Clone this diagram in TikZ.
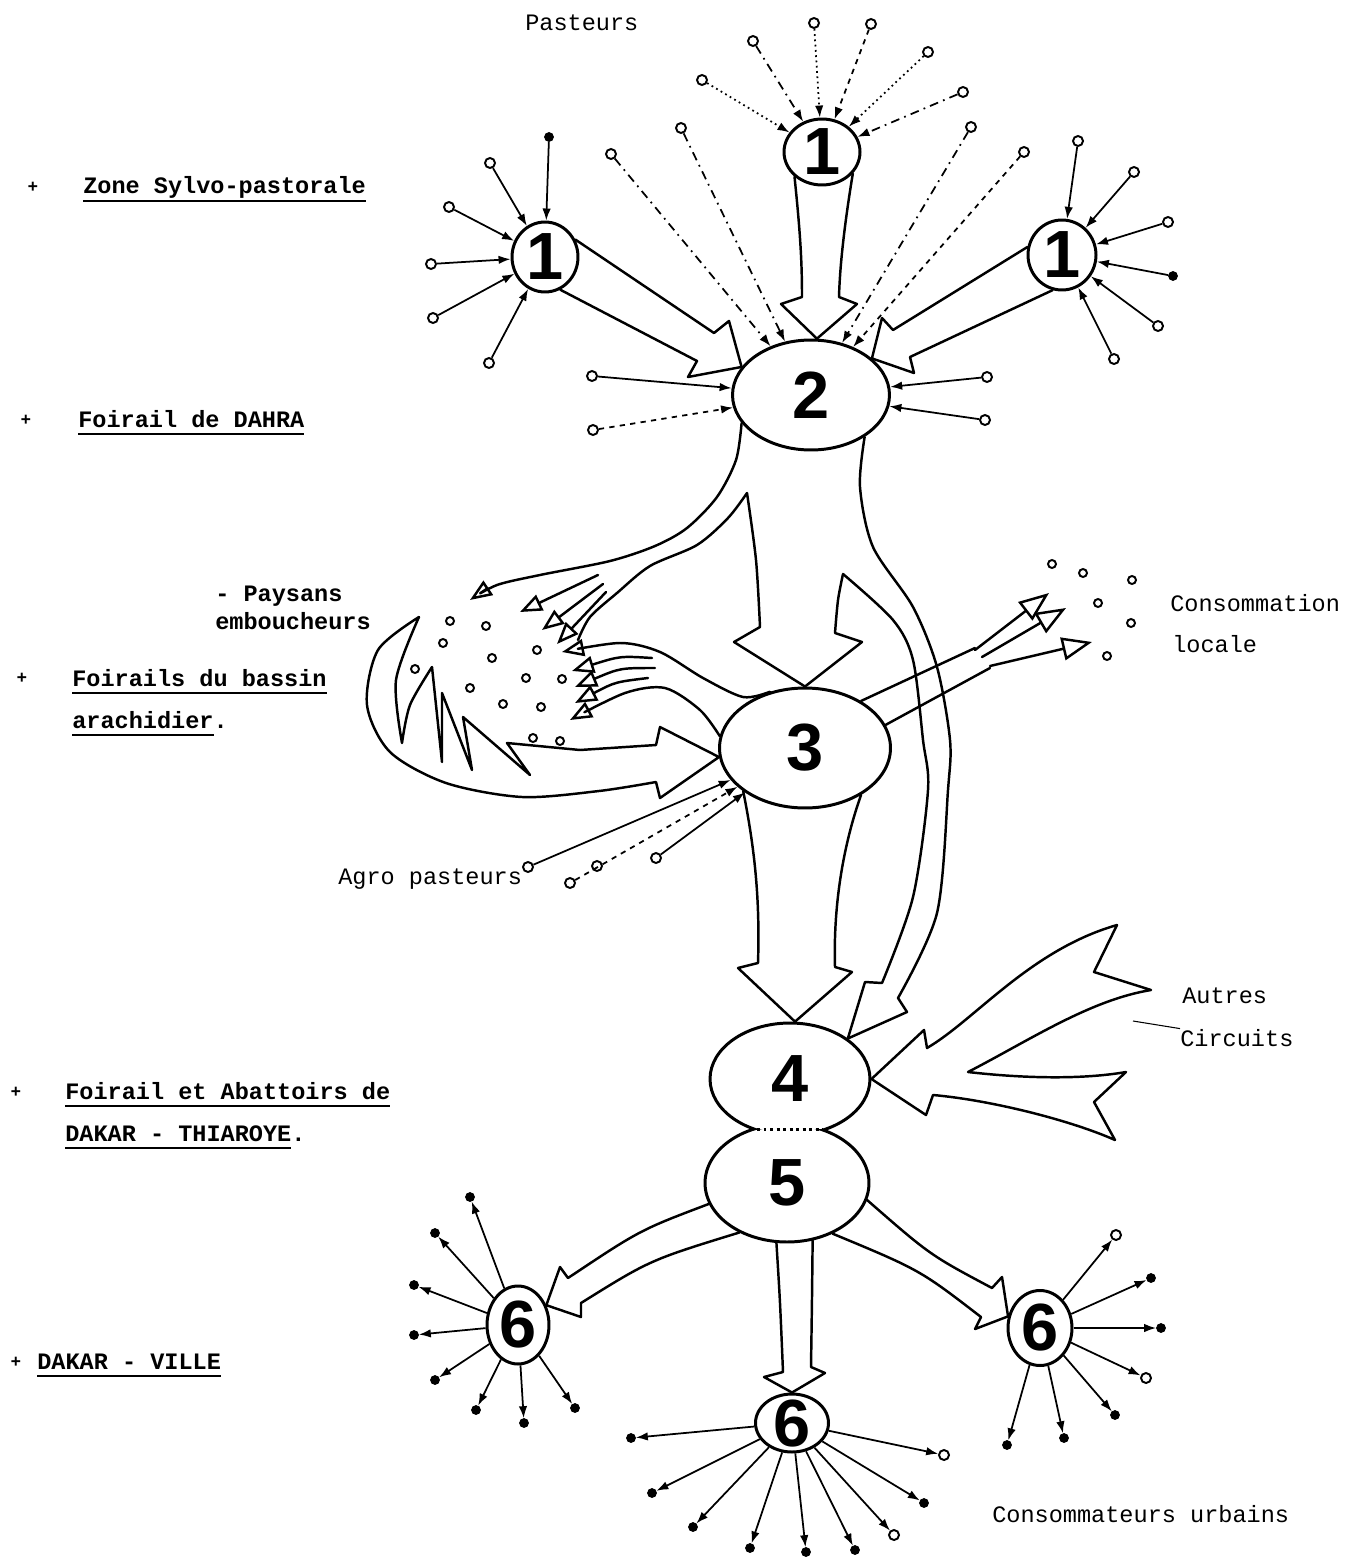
\documentclass[tikz,border=0pt]{standalone}
\usepackage{fontspec}
\setmainfont{Liberation Mono}
\newfontfamily\digitfont{Liberation Sans}
\usetikzlibrary{shapes.geometric,arrows.meta}

\newcommand\ulbl[1]{\setbox0\hbox{#1}\rlap{\rule[-4.5pt]{\wd0}{0.9pt}}\box0}

\begin{document}
\begin{tikzpicture}[
  x=0.02cm, y=-0.02cm,
  cell/.style={
    ellipse, draw, line width=1.7pt, inner sep=-8pt,
    font=\digitfont\bfseries\fontsize{38}{38}\selectfont
  },
  src/.style={circle, draw, line width=1.1pt, inner sep=0pt, minimum size=2mm},
  sink/.style={circle, draw, fill, inner sep=0pt, minimum size=1.8mm},
  seed/.style={circle, draw, line width=1.1pt, inner sep=0pt, minimum size=1.6mm},
  feed/.style={-{Latex[length=2.4mm,width=1.7mm]}, line width=1pt},
  dashdt/.style={dash pattern=on 5pt off 3pt on 1pt off 3pt},
  flow/.style={line width=1.4pt, line join=round, line cap=round},
  hd/.style={-{Triangle[open,length=4.4mm,width=3.4mm]}},
  bighd/.style={-{Triangle[open,length=6mm,width=4.6mm]}},
  lbl/.style={font=\fontsize{13.4}{16}\selectfont, anchor=base west, inner sep=0pt},
  blbl/.style={lbl, font=\fontsize{13.4}{16}\selectfont\bfseries},
  plus/.style={font=\fontsize{10}{12}\selectfont\bfseries, inner sep=0pt},
]
\fill[white] (0,0) rectangle (1348,1561);
\useasboundingbox (0,0) rectangle (1348,1561);

%% --- Markets --------------------------------------------------------
\node[cell, minimum width=1.52cm, minimum height=1.32cm] (Pa) at (822,152)  {1};
\node[cell, minimum width=1.32cm, minimum height=1.40cm] (Pb) at (545,257)  {1};
\node[cell, minimum width=1.36cm, minimum height=1.40cm] (Pc) at (1062,255) {1};
\node[cell, minimum width=3.14cm, minimum height=2.20cm] (D)  at (811,395)  {2};
\node[cell, minimum width=3.42cm, minimum height=2.40cm] (B)  at (805,748)  {3};
\node[cell, draw=none, minimum width=3.20cm, minimum height=2.24cm] (T) at (790,1079) {4};
\node[cell, draw=none, minimum width=3.28cm, minimum height=2.36cm] (A) at (787,1183) {5};
\node[cell, minimum width=1.24cm, minimum height=1.56cm] (Va) at (518,1325)  {6};
\node[cell, minimum width=1.46cm, minimum height=1.16cm] (Vb) at (792,1423)  {6};
\node[cell, minimum width=1.28cm, minimum height=1.50cm] (Vc) at (1040,1328) {6};

%  4 and 5 share a pinched waist
\begin{scope}
  \clip (600,900) rectangle (1000,1129);
  \draw[line width=1.7pt] (T.center) ellipse [x radius=1.6cm, y radius=1.12cm];
\end{scope}
\begin{scope}
  \clip (600,1129) rectangle (1000,1300);
  \draw[line width=1.7pt] (A.center) ellipse [x radius=1.64cm, y radius=1.18cm];
\end{scope}
\draw[line width=1.7pt, dotted] (757,1129) -- (823,1129);

%% --- Pasteurs around the 1s ----------------------------------------
\foreach \px/\py/\n in {702/80/1, 814/23/3, 928/52/5}
  {\node[src] (pa\n) at (\px,\py) {}; \draw[feed, dotted] (pa\n) -- (Pa);}
\foreach \px/\py/\n in {753/41/2, 963/92/6}
  {\node[src] (pa\n) at (\px,\py) {}; \draw[feed, dashdt] (pa\n) -- (Pa);}
\node[src] (pa4) at (871,24) {};
\draw[feed, dashed] (pa4) -- (Pa);

\foreach \px/\py/\n in {490/163/1, 449/207/3, 431/264/4, 433/318/5, 489/363/6}
  {\node[src] (pb\n) at (\px,\py) {}; \draw[feed] (pb\n) -- (Pb);}
\node[sink] (pb2) at (549,137) {};
\draw[feed] (pb2) -- (Pb);

\foreach \px/\py/\n in {1078/141/1, 1134/172/2, 1168/222/3, 1158/326/5, 1114/359/6}
  {\node[src] (pc\n) at (\px,\py) {}; \draw[feed] (pc\n) -- (Pc);}
\node[sink] (pc4) at (1173,276) {};
\draw[feed] (pc4) -- (Pc);

%% --- Direct feeders of DAHRA ----------------------------------------
\foreach \px/\py/\n in {611/154/1, 681/128/2, 971/127/3}
  {\node[src] (dd\n) at (\px,\py) {}; \draw[feed, dashdt] (dd\n) -- (D);}
\node[src] (dd4) at (1024,152) {};
\draw[feed, dashed] (dd4) -- (D);
\foreach \px/\py/\n in {592/376/5, 987/377/7, 985/420/8}
  {\node[src] (dd\n) at (\px,\py) {}; \draw[feed] (dd\n) -- (D);}
\node[src] (dd6) at (593,430) {};
\draw[feed, dashed] (dd6) -- (D);

%% --- Big flows 1 -> 2 -----------------------------------------------
\draw[flow] (Pa.-138) .. controls (800,230) and (802,260) .. (802,297)
  -- (781,304) -- (D.84) -- (857,304) -- (839,297)
  .. controls (840,260) and (846,215) .. (Pa.-35);
\draw[flow] (Pb.30) -- (714,333) -- (729,321) -- (D.158) -- (688,377) -- (697,361) -- (Pb.-65);
\draw[flow] (Pc.167) -- (893,330) -- (882,318) -- (D.31) -- (914,373) -- (910,357) -- (Pc.-105);

%% --- Split below DAHRA: paysans / bassin / direct to 4 -------------
\draw[flow, hd] plot[smooth] coordinates
  {(D.-158) (736,460) (717,497) (687,528) (655,546) (610,561) (540,575) (497,585) (470,600)};
\draw[flow] plot[smooth] coordinates
  {(578,640) (590,617) (617,593) (650,566) (697,545) (728,518) (747,493)}
  -- plot[smooth] coordinates {(747,493) (756,560) (760,627)}
  -- (734,642) -- (B.north) -- (862,642) -- (835,633)
  -- plot[smooth] coordinates {(835,633) (838,600) (843,574)}
  -- plot[smooth] coordinates {(843,574) (893,620) (913,660) (923,740) (928,790) (913,897) (882,983)}
  -- (865,982) -- (T.35) -- (907,1012) -- (898,998)
  -- plot[smooth] coordinates {(898,998) (937,913) (948,790) (950,740) (937,667) (913,607) (873,547) (860,487) (D.-38)};
\draw[flow, hd] (598,575) -- (520,612);
\draw[flow, hd] (603,584) -- (542,630);
\draw[flow, hd] (606,592) -- (557,644);

%% --- Paysans emboucheurs --------------------------------------------
\foreach \px/\py [count=\i] in {450/621, 486/626, 443/643, 537/650, 492/658, 415/669, 526/678,
    562/679, 470/688, 503/704, 541/707, 533/738, 560/741}
  {\node[seed] (ps\i) at (\px,\py) {};}

\draw[flow, hd] plot[smooth] coordinates {(B.122) (743,697) (703,678) (660,652) (620,643) (562,652)};
\draw[flow, hd] plot[smooth] coordinates {(B.172) (700,710) (665,688) (625,693) (570,720)};
\draw[flow, hd] (652,658) .. controls (620,656) .. (572,671);
\draw[flow, hd] (655,668) .. controls (620,668) .. (575,687);
\draw[flow, hd] (648,678) .. controls (615,682) .. (575,703);

\draw[flow] (B.186) -- (660,727) -- (656,745) -- (580,750) -- (507,743) -- (530,775)
  -- (463,717) -- (472,770) -- (442,693) -- (442,762) -- (432,667)
  -- plot[smooth] coordinates {(432,667) (410,705) (402,743)}
  -- plot[smooth] coordinates {(402,743) (396,680) (419,617)}
  -- plot[smooth] coordinates {(419,617) (378,650) (367,705) (390,752) (446,783) (522,797) (599,791) (656,782)}
  -- (660,798) -- cycle;

%% --- Agro pasteurs --------------------------------------------------
\node[src] (ag1) at (528,867) {};
\node[src] (ag2) at (570,883) {};
\node[src] (ag3) at (656,858) {};
\node[src] (ag4) at (597,866) {};
\draw[feed] (ag1) -- (B);
\draw[feed, dashed] (ag2) -- (B);
\draw[feed] (ag3) -- (B);

%% --- Consommation locale --------------------------------------------
\draw[flow] (B.40) -- (975,648);
\draw[flow] (B.16) -- (990,668);
\draw[flow, bighd] (975,650) -- (1049,593);
\draw[flow, bighd] (982,657) -- (1066,608);
\draw[flow, bighd] (990,666) -- (1092,642);
\foreach \px/\py [count=\i] in {1052/564, 1083/573, 1132/580, 1098/603, 1131/623, 1107/656}
  {\node[seed] (cl\i) at (\px,\py) {};}

%% --- 3 -> 4 and other circuits -------------------------------------
\draw[flow] (B.-145) .. controls (755,850) and (760,900) .. (758,963)
  -- (738,968) -- (T.85) -- (852,972) -- (835,967)
  .. controls (833,900) and (845,840) .. (B.-40);

\draw[flow] (T.0) -- (924,1030) -- (927,1048)
  .. controls (975,1020) and (1030,950) .. (1117,925) -- (1094,972) -- (1151,990)
  .. controls (1090,1000) and (1030,1040) .. (968,1072)
  .. controls (1020,1078) and (1080,1080) .. (1126,1072) -- (1094,1102) -- (1115,1140)
  .. controls (1070,1120) and (990,1100) .. (933,1095) -- (926,1115) -- cycle;

%% --- 5 -> Dakar ville -----------------------------------------------
\draw[flow] (A.195) .. controls (640,1230) .. (568,1278) -- (560,1267) -- (Va.35)
  -- (581,1317) -- (581,1303) .. controls (650,1260) .. (A.-134);
\draw[flow] (A.-100) .. controls (780,1300) .. (783,1372) -- (764,1377) -- (Vb.north)
  -- (825,1373) -- (811,1367) .. controls (812,1300) .. (A.-66);
\draw[flow] (A.-12) .. controls (930,1255) .. (992,1288) -- (1002,1277) -- (Vc.160)
  -- (975,1329) -- (981,1317) .. controls (920,1270) .. (A.-48);

\foreach \px/\py/\n in {470/1197/1, 435/1233/2, 414/1285/3, 414/1335/4, 435/1380/5,
    476/1410/6, 524/1423/7, 575/1408/8}
  {\node[sink] (va\n) at (\px,\py) {}; \draw[feed] (Va) -- (va\n);}
\foreach \px/\py/\n in {631/1438/1, 652/1493/3, 693/1527/4, 750/1548/5, 806/1552/6,
    855/1550/7, 924/1503/9}
  {\node[sink] (vb\n) at (\px,\py) {}; \draw[feed] (Vb) -- (vb\n);}
\foreach \px/\py/\n in {944/1455/2, 894/1535/8}
  {\node[src] (vb\n) at (\px,\py) {}; \draw[feed] (Vb) -- (vb\n);}
\foreach \px/\py/\n in {1151/1278/2, 1161/1328/3, 1115/1415/5, 1064/1438/6, 1007/1445/7}
  {\node[sink] (vc\n) at (\px,\py) {}; \draw[feed] (Vc) -- (vc\n);}
\foreach \px/\py/\n in {1116/1235/1, 1146/1378/4}
  {\node[src] (vc\n) at (\px,\py) {}; \draw[feed] (Vc) -- (vc\n);}

%% --- Labels ---------------------------------------------------------
\node[lbl] (pasteurs) at (525,31) {Pasteurs};
\node[lbl] (conso)  at (1170,611) {Consommation};
\node[lbl] (locale) at (1172,652) {locale};
\node[lbl] (agro)   at (338,884)  {Agro pasteurs};
\node[lbl] (autres) at (1182,1003) {Autres};
\node[lbl] (circ)   at (1180,1046) {Circuits};
\node[lbl] (urb)    at (992,1522) {Consommateurs urbains};
\coordinate (lead) at (1133,1021);
\draw[line width=0.6pt] (lead) -- (circ.north west);

\node[plus] (m1) at (33,187)  {+};
\node[blbl] (zone) at (83,194) {\ulbl{Zone Sylvo-pastorale}};
\node[plus] (m2) at (26,420)  {+};
\node[blbl] (dahra) at (78,427) {\ulbl{Foirail de DAHRA}};
\node[blbl] (paysans) at (215,601) {- Paysans};
\node[blbl] (embou)   at (215,629) {emboucheurs};
\node[plus] (m3) at (22,678)  {+};
\node[blbl] (bassin) at (72,686) {\ulbl{Foirails du bassin}};
\node[blbl] (arach)  at (72,728) {\ulbl{arachidier}.};
\node[plus] (m4) at (16,1092) {+};
\node[blbl] (abatt)  at (65,1099) {\ulbl{Foirail et Abattoirs de}};
\node[blbl] (thiar)  at (65,1141) {\ulbl{DAKAR - THIAROYE}.};
\node[plus] (m5) at (16,1362) {+};
\node[blbl] (ville)  at (37,1369) {\ulbl{DAKAR - VILLE}};

\end{tikzpicture}
\end{document}
